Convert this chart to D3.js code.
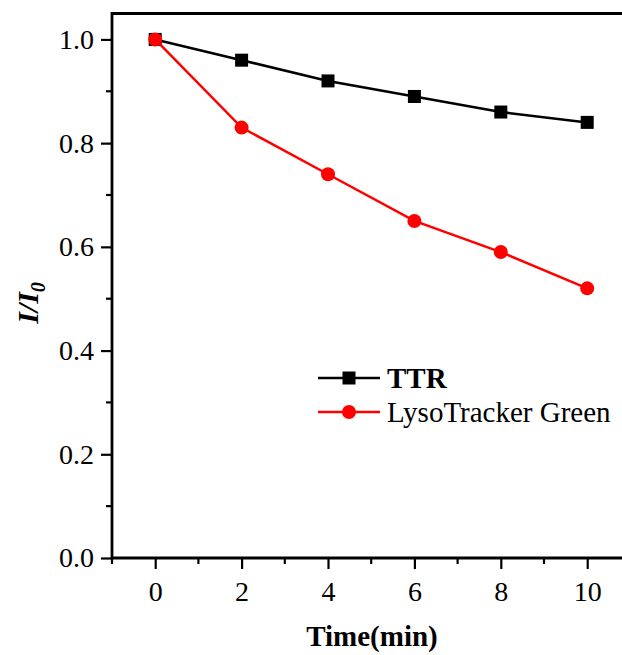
<!DOCTYPE html>
<html>
<head>
<meta charset="utf-8">
<script src="https://cdn.jsdelivr.net/npm/d3@7"></script>
<style>
  body { margin: 0; background: #fff; }
  svg { display: block; font-family: "Liberation Serif", "Times New Roman", serif; }
</style>
</head>
<body>
<div id="vis"></div>
<script>
// data
var times = [0, 2, 4, 6, 8, 10];
var ttrValues = [1.0, 0.96, 0.92, 0.89, 0.86, 0.84];
var lysoValues = [1.0, 0.83, 0.74, 0.65, 0.59, 0.52];
var xTicks = [0, 2, 4, 6, 8, 10];
var yTicks = [0.0, 0.2, 0.4, 0.6, 0.8, 1.0];
var seriesNames = ['TTR', 'LysoTracker Green'];

var width = 622;
var height = 655;
// the right border sits just past the window, as in the original
var margin = { top: 13.5, left: 112, bottom: 97, right: -8.4 };

var svg = d3.select('#vis').append('svg')
  .attr('width', width)
  .attr('height', height);

var xScale = d3.scaleLinear()
  .domain([-1, 11])
  .range([margin.left, width - margin.right]);

var yScale = d3.scaleLinear()
  .domain([0, 1.05])
  .range([height - margin.bottom, margin.top]);

var x0 = margin.left, x1 = width - margin.right;
var y0 = height - margin.bottom, y1 = margin.top;

// frame
svg.append('path')
  .attr('d', 'M' + x0 + ',' + y1 + 'H' + x1 + 'V' + y0 + 'H' + x0 + 'Z')
  .attr('fill', 'none')
  .attr('stroke', '#000')
  .attr('stroke-width', 2.8);

// minor ticks
var yMinor = [0.1, 0.3, 0.5, 0.7, 0.9];
svg.selectAll('.ymin').data(yMinor).enter().append('line')
  .attr('x1', x0).attr('x2', x0 - 6)
  .attr('y1', function(d) { return yScale(d); })
  .attr('y2', function(d) { return yScale(d); })
  .attr('stroke', '#000').attr('stroke-width', 2.2);

var xMinor = [-1, 1, 3, 5, 7, 9];
svg.selectAll('.xmin').data(xMinor).enter().append('line')
  .attr('y1', y0).attr('y2', y0 + 6)
  .attr('x1', function(d) { return xScale(d); })
  .attr('x2', function(d) { return xScale(d); })
  .attr('stroke', '#000').attr('stroke-width', 2.2);

// major axes
var yAxis = d3.axisLeft(yScale)
  .tickValues(yTicks)
  .tickFormat(d3.format('.1f'))
  .tickSize(11)
  .tickPadding(7);

svg.append('g')
  .attr('class', 'y axis')
  .attr('transform', 'translate(' + x0 + ',0)')
  .call(yAxis);

var xAxis = d3.axisBottom(xScale)
  .tickValues(xTicks)
  .tickFormat(d3.format('d'))
  .tickSize(11)
  .tickPadding(12);

svg.append('g')
  .attr('class', 'x axis')
  .attr('transform', 'translate(0,' + y0 + ')')
  .call(xAxis);

svg.selectAll('.axis')
  .attr('font-family', '"Liberation Serif", serif')
  .attr('font-size', 28);
svg.selectAll('.axis .domain').remove();
svg.selectAll('.axis line').attr('stroke', '#000').attr('stroke-width', 2.2);
svg.selectAll('.axis text').attr('fill', '#000');

// lines
var line = d3.line()
  .x(function(d) { return xScale(d[0]); })
  .y(function(d) { return yScale(d[1]); });

var ttrData = times.map(function(t, i) { return [t, ttrValues[i]]; });
var lysoData = times.map(function(t, i) { return [t, lysoValues[i]]; });

svg.append('path').datum(ttrData)
  .attr('d', line).attr('fill', 'none')
  .attr('stroke', '#000').attr('stroke-width', 2.5);

svg.selectAll('.ttr').data(ttrData).enter().append('rect')
  .attr('x', function(d) { return xScale(d[0]) - 6.5; })
  .attr('y', function(d) { return yScale(d[1]) - 6.5; })
  .attr('width', 13).attr('height', 13)
  .attr('fill', '#000');

svg.append('path').datum(lysoData)
  .attr('d', line).attr('fill', 'none')
  .attr('stroke', '#ff0000').attr('stroke-width', 2.5);

svg.selectAll('.lyso').data(lysoData).enter().append('circle')
  .attr('cx', function(d) { return xScale(d[0]); })
  .attr('cy', function(d) { return yScale(d[1]); })
  .attr('r', 7)
  .attr('fill', '#ff0000');

// legend
var legend = svg.append('g');
legend.append('line')
  .attr('x1', 318).attr('x2', 380).attr('y1', 378).attr('y2', 378)
  .attr('stroke', '#000').attr('stroke-width', 2.5);
legend.append('rect')
  .attr('x', 342.5).attr('y', 371.5).attr('width', 13).attr('height', 13)
  .attr('fill', '#000');
legend.append('text')
  .attr('x', 387).attr('y', 388)
  .style('font-size', '29px').style('font-weight', 'bold')
  .text(seriesNames[0]);

legend.append('line')
  .attr('x1', 318).attr('x2', 380).attr('y1', 412).attr('y2', 412)
  .attr('stroke', '#ff0000').attr('stroke-width', 2.5);
legend.append('circle')
  .attr('cx', 349).attr('cy', 412).attr('r', 7)
  .attr('fill', '#ff0000');
legend.append('text')
  .attr('x', 387).attr('y', 422)
  .style('font-size', '29px')
  .text(seriesNames[1]);

// axis titles
svg.append('text')
  .attr('x', 372).attr('y', 646)
  .attr('text-anchor', 'middle')
  .style('font-size', '29px').style('font-weight', 'bold')
  .text('Time(min)');

var yt = svg.append('text')
  .attr('transform', 'translate(38,303) rotate(-90)')
  .attr('text-anchor', 'middle')
  .style('font-size', '30px').style('font-weight', 'bold').style('font-style', 'italic');
yt.append('tspan').text('I/I');
yt.append('tspan').attr('dy', 7).style('font-size', '20px').text('0');
</script>
</body>
</html>
